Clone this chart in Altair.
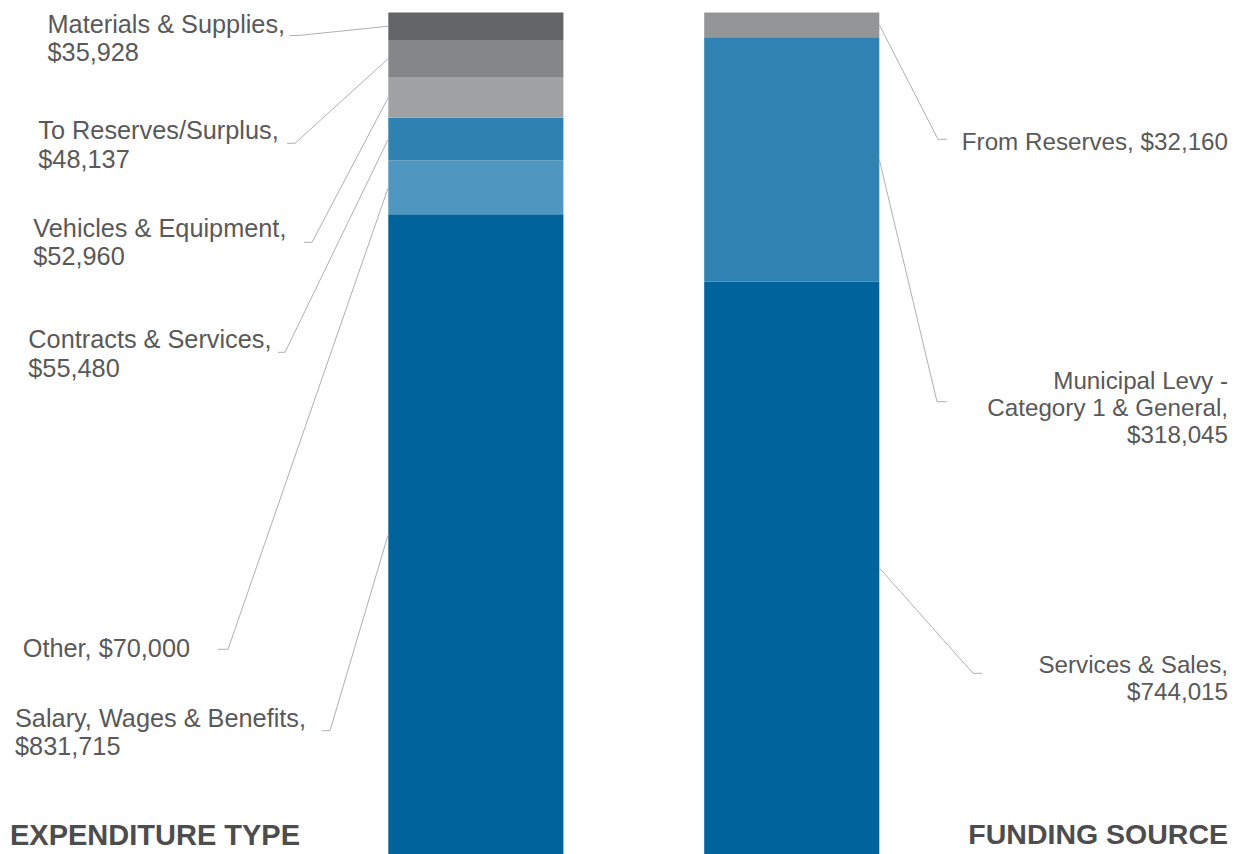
import altair as alt
import pandas as pd

# ---------------- data ----------------
sides = ["EXPENDITURE TYPE", "FUNDING SOURCE"]

exp_categories = ["Salary, Wages & Benefits", "Other", "Contracts & Services",
                  "Vehicles & Equipment", "To Reserves/Surplus", "Materials & Supplies"]
exp_values = [831715, 70000, 55480, 52960, 48137, 35928]

fund_categories = ["Services & Sales", "Municipal Levy -\nCategory 1 & General", "From Reserves"]
fund_values = [744015, 318045, 32160]

# value on same line as the name?
exp_inline = [False, True, False, False, False, False]
fund_inline = [False, False, True]

# ---------------- style / layout ----------------
exp_colors = ["#00639b", "#4f96c0", "#2e81b1", "#a0a1a3", "#858688", "#636466"]
fund_colors = ["#00639b", "#2f82b1", "#949597"]

W, H = 1232, 846
YMAX = 1100000
ORIGIN = 8  # page margin

# band positions of the two bars (plot-area pixels)
BAND_RANGE = [380.3, 871.3]
BAND_PADDING_INNER = 0.4457

# page-pixel layout of annotations
exp_label_x = [15, 22.7, 28.3, 33.3, 38.3, 47.5]
exp_label_base = [726.7, 657.3, 348.3, 236.7, 139.3, 32.5]
exp_tick_y = [730.7, 649.3, 352.3, 242.3, 143.3, 35.5]
exp_tick_outer = [322, 218, 278, 304, 287, 290]
exp_tick_inner = [330, 228, 285, 312, 295, 298]
exp_bar_edge = 388.3

fund_label_x = [1228, 1228, 1228]
fund_label_base = [673.3, 389.3, 150]
fund_tick_y = [673.3, 401.7, 139.3]
fund_tick_outer = [982, 947, 947]
fund_tick_inner = [973, 937, 938]
fund_bar_edge = 879.3

title_x = [10, 1228]
title_base = [845, 844]

FONT = "Liberation Sans"
TEXT_COLOR = "#595959"
LINE_COLOR = "#b0b0b0"


def to_val(py):
    return YMAX * (1 - (py - ORIGIN) / H)


def label_text(cat, val, inline):
    if inline:
        return f"{cat}, ${val:,}"
    return f"{cat},\n${val:,}"


# ---------------- tables ----------------
bar_rows = []
line_rows = []
exp_label_rows = []
fund_label_rows = []

groups = [
    (sides[0], exp_categories, exp_values, exp_inline, exp_label_x, exp_label_base,
     exp_tick_y, exp_tick_outer, exp_tick_inner, exp_bar_edge, exp_label_rows),
    (sides[1], fund_categories, fund_values, fund_inline, fund_label_x, fund_label_base,
     fund_tick_y, fund_tick_outer, fund_tick_inner, fund_bar_edge, fund_label_rows),
]

for side, cats, vals, inl, lx, lb, ty, to, ti, edge, lab_rows in groups:
    cum = 0
    for i, (c, v) in enumerate(zip(cats, vals)):
        bar_rows.append({"side": side, "category": c, "value": v, "order": i})
        mid = cum + v / 2
        cum += v
        lid = f"{side}-{i}"
        line_rows += [
            {"lid": lid, "pt": 0, "px": to[i], "yv": to_val(ty[i])},
            {"lid": lid, "pt": 1, "px": ti[i], "yv": to_val(ty[i])},
            {"lid": lid, "pt": 2, "px": edge, "yv": mid},
        ]
        lab_rows.append({"text": label_text(c, v, inl[i]), "px": lx[i], "yv": to_val(lb[i])})

df_bars = pd.DataFrame(bar_rows)
df_lines = pd.DataFrame(line_rows)
df_exp_lab = pd.DataFrame(exp_label_rows)
df_fund_lab = pd.DataFrame(fund_label_rows)
df_titles = pd.DataFrame({"text": sides, "px": title_x, "yv": [to_val(b) for b in title_base]})

all_cats = exp_categories + fund_categories
all_colors = exp_colors + fund_colors

yscale = alt.Scale(domain=[0, YMAX], nice=False, zero=True)
xlayout = alt.Scale(domain=[ORIGIN, ORIGIN + W], nice=False, zero=False)

bars = alt.Chart(df_bars).mark_bar(strokeWidth=0).encode(
    x=alt.X("side:N", axis=None,
            scale=alt.Scale(domain=sides, range=BAND_RANGE,
                            paddingInner=BAND_PADDING_INNER, paddingOuter=0)),
    y=alt.Y("value:Q", stack="zero", scale=yscale, axis=None),
    color=alt.Color("category:N", scale=alt.Scale(domain=all_cats, range=all_colors), legend=None),
    order=alt.Order("order:Q", sort="ascending"),
)

leaders = alt.Chart(df_lines).mark_line(color=LINE_COLOR, strokeWidth=1).encode(
    x=alt.X("px:Q", scale=xlayout, axis=None),
    y=alt.Y("yv:Q", scale=yscale, axis=None),
    detail="lid:N",
    order="pt:Q",
)

exp_labels = alt.Chart(df_exp_lab).mark_text(
    align="left", baseline="alphabetic", lineBreak="\n", fontSize=25.3, font=FONT,
    color=TEXT_COLOR, lineHeight=28.5,
).encode(
    x=alt.X("px:Q", scale=xlayout, axis=None),
    y=alt.Y("yv:Q", scale=yscale, axis=None),
    text="text:N",
)

fund_labels = alt.Chart(df_fund_lab).mark_text(
    align="right", baseline="alphabetic", lineBreak="\n", fontSize=24.2, font=FONT,
    color=TEXT_COLOR, lineHeight=27,
).encode(
    x=alt.X("px:Q", scale=xlayout, axis=None),
    y=alt.Y("yv:Q", scale=yscale, axis=None),
    text="text:N",
)

title_left = alt.Chart(df_titles.iloc[[0]]).mark_text(
    align="left", baseline="alphabetic", fontSize=29, fontWeight="bold", font=FONT, color="#4d4d4d",
).encode(
    x=alt.X("px:Q", scale=xlayout, axis=None),
    y=alt.Y("yv:Q", scale=yscale, axis=None),
    text="text:N",
)

title_right = alt.Chart(df_titles.iloc[[1]]).mark_text(
    align="right", baseline="alphabetic", fontSize=28.5, fontWeight="bold", font=FONT, color="#4d4d4d",
).encode(
    x=alt.X("px:Q", scale=xlayout, axis=None),
    y=alt.Y("yv:Q", scale=yscale, axis=None),
    text="text:N",
)

chart = alt.layer(
    bars, leaders, exp_labels, fund_labels, title_left, title_right
).resolve_scale(x="independent").properties(
    width=W, height=H, padding=0, autosize="none"
).configure_view(stroke=None)

chart.save("out.html", embed_options={"renderer": "svg", "actions": False})
